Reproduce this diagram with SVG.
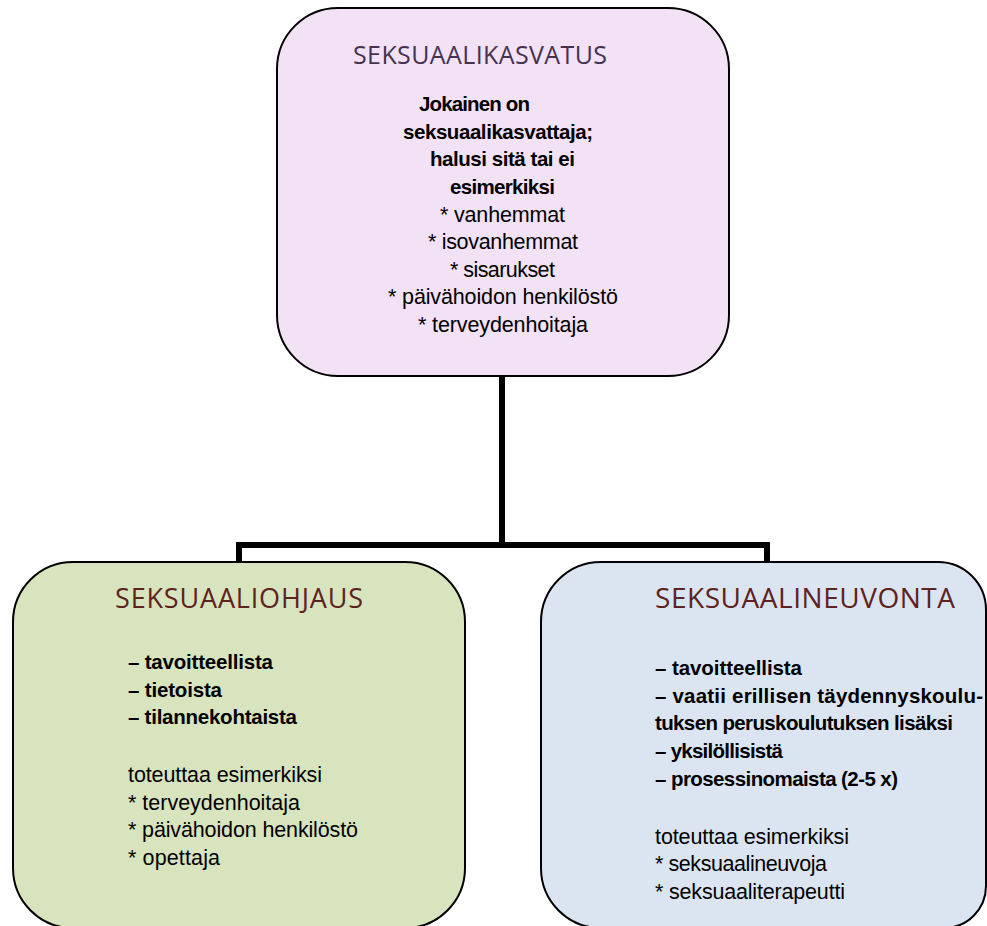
<svg xmlns="http://www.w3.org/2000/svg" width="987" height="926" viewBox="0 0 987 926">
  <style>
    .box { stroke: #000; stroke-width: 2; }
    .title { font-family: "Open Sans", "Liberation Sans", sans-serif; font-weight: 400; }
    .t-purple { fill: #45324f; }
    .t-red { fill: #5e2220; }
    .body { font-family: "Liberation Sans", Arial, sans-serif; fill: #000; font-size: 21.5px; }
    .b { font-weight: bold; font-size: 20.5px; }
    .link { fill: none; stroke: #000; stroke-width: 6; stroke-linejoin: miter; stroke-linecap: butt; }
  </style>
  <rect width="987" height="926" fill="#fff"/>

  <!-- connectors: trunk from the top box, crossbar, two drops -->
  <g id="connectors">
    <path class="link" d="M502,376 V545"/>
    <path class="link" d="M239,562 V545 H767 V562"/>
  </g>

  <!-- top node -->
  <g id="seksuaalikasvatus">
    <rect class="box" x="277" y="8" width="452" height="368" rx="61" ry="61" fill="#f3e1f5"/>
    <text class="title t-purple" x="480" y="64" font-size="25" text-anchor="middle" textLength="254">SEKSUAALIKASVATUS</text>
    <g class="body" text-anchor="middle">
      <text class="b" x="474.5" y="111" textLength="111">Jokainen on</text>
      <text class="b" x="498" y="138.5" textLength="190">seksuaalikasvattaja;</text>
      <text class="b" x="502.5" y="166" textLength="145">halusi sitä tai ei</text>
      <text class="b" x="502.5" y="193.5" textLength="105">esimerkiksi</text>
      <text x="502.5" y="221.5" textLength="125">* vanhemmat</text>
      <text x="503" y="249" textLength="150">* isovanhemmat</text>
      <text x="502.5" y="276.5" textLength="105">* sisarukset</text>
      <text x="503" y="304" textLength="230">* päivähoidon henkilöstö</text>
      <text x="503" y="331.5" textLength="170">* terveydenhoitaja</text>
    </g>
  </g>

  <!-- left node -->
  <g id="seksuaaliohjaus">
    <rect class="box" x="13" y="562" width="452" height="366" rx="60" ry="60" fill="#d7e4bd"/>
    <text class="title t-red" x="239" y="608" font-size="27" text-anchor="middle" textLength="248">SEKSUAALIOHJAUS</text>
    <g class="body">
      <text class="b" x="128" y="669" textLength="145">– tavoitteellista</text>
      <text class="b" x="128" y="697" textLength="94">– tietoista</text>
      <text class="b" x="128" y="724" textLength="169">– tilannekohtaista</text>
      <text x="128" y="782" textLength="194">toteuttaa esimerkiksi</text>
      <text x="128" y="810" textLength="172">* terveydenhoitaja</text>
      <text x="128" y="837" textLength="230">* päivähoidon henkilöstö</text>
      <text x="128" y="865" textLength="92">* opettaja</text>
    </g>
  </g>

  <!-- right node (right-hand corners are tighter) -->
  <g id="seksuaalineuvonta">
    <path class="box" fill="#dbe5f1" d="M601,562 H938 A48,48 0 0 1 986,610 V886 A42,42 0 0 1 944,928 H601 A60,60 0 0 1 541,868 V622 A60,60 0 0 1 601,562 Z"/>
    <text class="title t-red" x="805" y="608" font-size="28" text-anchor="middle" textLength="300">SEKSUAALINEUVONTA</text>
    <g class="body">
      <text class="b" x="655" y="675" textLength="147">– tavoitteellista</text>
      <text class="b" x="655" y="703" textLength="328">– vaatii erillisen täydennyskoulu-</text>
      <text class="b" x="655" y="730" textLength="298">tuksen peruskoulutuksen lisäksi</text>
      <text class="b" x="655" y="758" textLength="128">– yksilöllisistä</text>
      <text class="b" x="655" y="786" textLength="243">– prosessinomaista (2-5 x)</text>
      <text x="655" y="844" textLength="194">toteuttaa esimerkiksi</text>
      <text x="655" y="871" textLength="172">* seksuaalineuvoja</text>
      <text x="655" y="899" textLength="190">* seksuaaliterapeutti</text>
    </g>
  </g>
</svg>
